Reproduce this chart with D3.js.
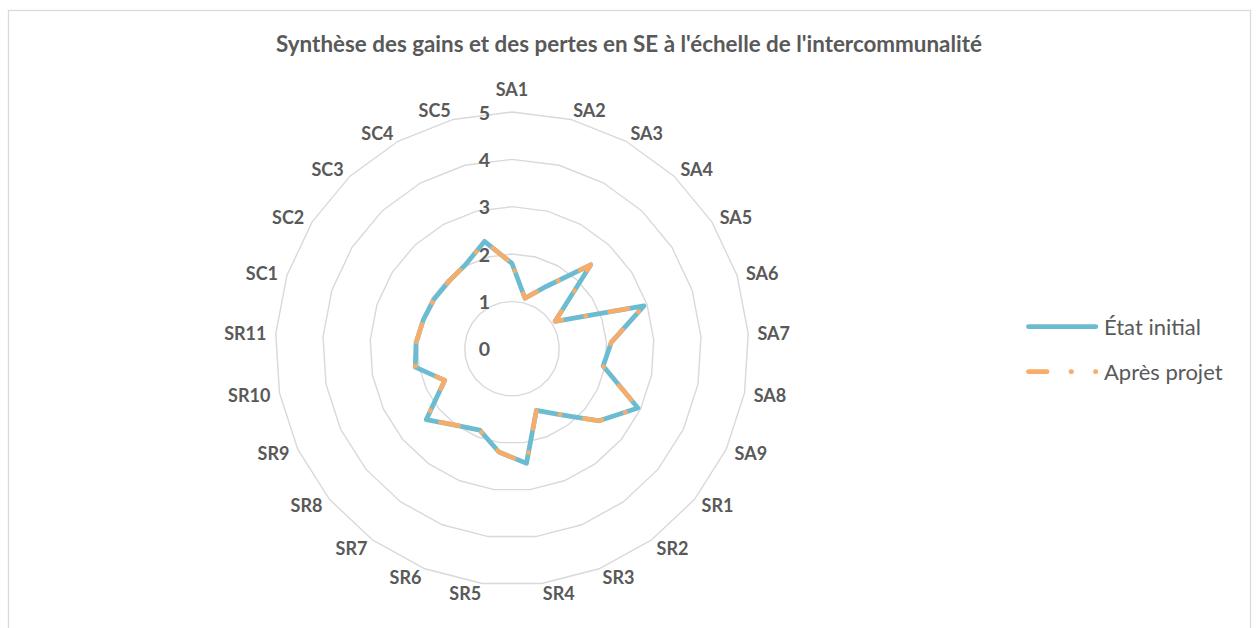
<!DOCTYPE html>
<html lang="fr">
<head>
<meta charset="utf-8">
<script src="https://cdn.jsdelivr.net/npm/d3@7"></script>
<style>
  html, body { margin: 0; padding: 0; background: #ffffff; }
  svg { display: block; }
  text { font-family: Lato, "Open Sans", sans-serif; fill: #595959; }
</style>
</head>
<body>
<svg id="chart" width="1257" height="628"></svg>
<script>
// Ecosystem services (SE) scored on a 0–5 scale
const categories = [
  "SA1", "SA2", "SA3", "SA4", "SA5", "SA6", "SA7", "SA8", "SA9",
  "SR1", "SR2", "SR3", "SR4", "SR5", "SR6", "SR7", "SR8", "SR9", "SR10", "SR11",
  "SC1", "SC2", "SC3", "SC4", "SC5"
];
const etatInitial = [
  1.80, 1.10, 1.50, 2.43, 1.08, 2.93, 2.10, 1.96, 2.94,
  2.39, 1.72, 1.40, 2.44, 2.20, 1.85, 2.00, 2.35, 1.57, 2.08, 2.03,
  1.97, 1.95, 1.95, 2.03, 2.34
];
const apresProjet = [
  1.80, 1.10, 1.50, 2.43, 1.08, 2.93, 2.10, 1.96, 2.94,
  2.39, 1.72, 1.40, 2.44, 2.20, 1.85, 2.00, 2.35, 1.57, 2.08, 2.03,
  1.97, 1.95, 1.95, 2.03, 2.34
];
const tickValues = [0, 1, 2, 3, 4, 5];
const seriesNames = ["État initial", "Après projet"];
const title = "Synthèse des gains et des pertes en SE à l'échelle de l'intercommunalité";

const cx = 512, cy = 348.7;
const svg = d3.select("#chart");

// Chart area frame
svg.append("rect")
  .attr("x", 8.5).attr("y", 10.5)
  .attr("width", 1242).attr("height", 640)
  .attr("fill", "#ffffff")
  .attr("stroke", "#d9d9d9").attr("stroke-width", 1.3);

svg.append("text")
  .attr("x", 629).attr("y", 52)
  .attr("text-anchor", "middle")
  .style("font-size", "22.4px").style("font-weight", "700")
  .text(title);

const r = d3.scaleLinear().domain([0, 5]).range([0, 236.7]);
const angle = d3.scaleLinear()
  .domain([0, categories.length])
  .range([0, 2 * Math.PI]);

const g = svg.append("g").attr("transform", `translate(${cx},${cy})`);

// Polygonal rings for each tick value
const ring = d3.lineRadial()
  .angle((d, i) => angle(i))
  .radius(d => r(d))
  .curve(d3.curveLinearClosed);

g.selectAll("path.grid")
  .data(tickValues.filter(t => t > 0))
  .join("path")
  .attr("class", "grid")
  .attr("d", t => ring(categories.map(() => t)))
  .attr("fill", "none")
  .attr("stroke", "#d9d9d9")
  .attr("stroke-width", 1.4);

// Value axis labels
g.selectAll("text.tick")
  .data(tickValues)
  .join("text")
  .attr("class", "tick")
  .attr("x", -22)
  .attr("y", t => -r(t))
  .attr("text-anchor", "end")
  .attr("dominant-baseline", "central")
  .style("font-size", "19.5px").style("font-weight", "700")
  .text(t => t);

// Series
const seriesLine = d3.lineRadial()
  .angle((d, i) => angle(i))
  .radius(d => r(d))
  .curve(d3.curveLinearClosed);

g.append("path")
  .attr("d", seriesLine(etatInitial))
  .attr("fill", "none")
  .attr("stroke", "#6bbcd1")
  .attr("stroke-width", 4.8)
  .attr("stroke-linejoin", "round")
  .attr("stroke-linecap", "round");

g.append("path")
  .attr("d", seriesLine(apresProjet))
  .attr("fill", "none")
  .attr("stroke", "#f8ac6a")
  .attr("stroke-width", 4.5)
  .attr("stroke-linejoin", "round")
  .attr("stroke-linecap", "round")
  .attr("stroke-dasharray", "18.5 24 0.5 24")
  .attr("stroke-dashoffset", 35);

// Category labels around the outer ring
const labelR = 246;
g.selectAll("text.cat")
  .data(categories)
  .join("text")
  .attr("class", "cat")
  .each(function(d, i) {
    const a = angle(i);
    const s = Math.sin(a), c = Math.cos(a);
    const vertical = Math.abs(s) < 1e-6;
    d3.select(this)
      .attr("x", labelR * s)
      .attr("y", -labelR * c + (vertical ? -13.5 * c : 0))
      .attr("text-anchor", vertical ? "middle" : (s > 0 ? "start" : "end"))
      .attr("dominant-baseline", "central");
  })
  .style("font-size", "18px").style("font-weight", "700")
  .text(d => d);

// Legend
const legend = svg.append("g");
const legendRows = [
  { name: seriesNames[0], y: 326.7, color: "#6bbcd1", dash: null },
  { name: seriesNames[1], y: 371.7, color: "#f8ac6a", dash: "18.5 24 0.5 24" }
];
legendRows.forEach(row => {
  const ln = legend.append("line")
    .attr("x1", 1028.5).attr("x2", 1095.8)
    .attr("y1", row.y).attr("y2", row.y)
    .attr("stroke", row.color)
    .attr("stroke-width", 4.8)
    .attr("stroke-linecap", "round");
  if (row.dash) ln.attr("stroke-dasharray", row.dash);
  legend.append("text")
    .attr("x", 1104).attr("y", row.y)
    .attr("dominant-baseline", "central")
    .style("font-size", "22px")
    .text(row.name);
});
</script>
</body>
</html>
